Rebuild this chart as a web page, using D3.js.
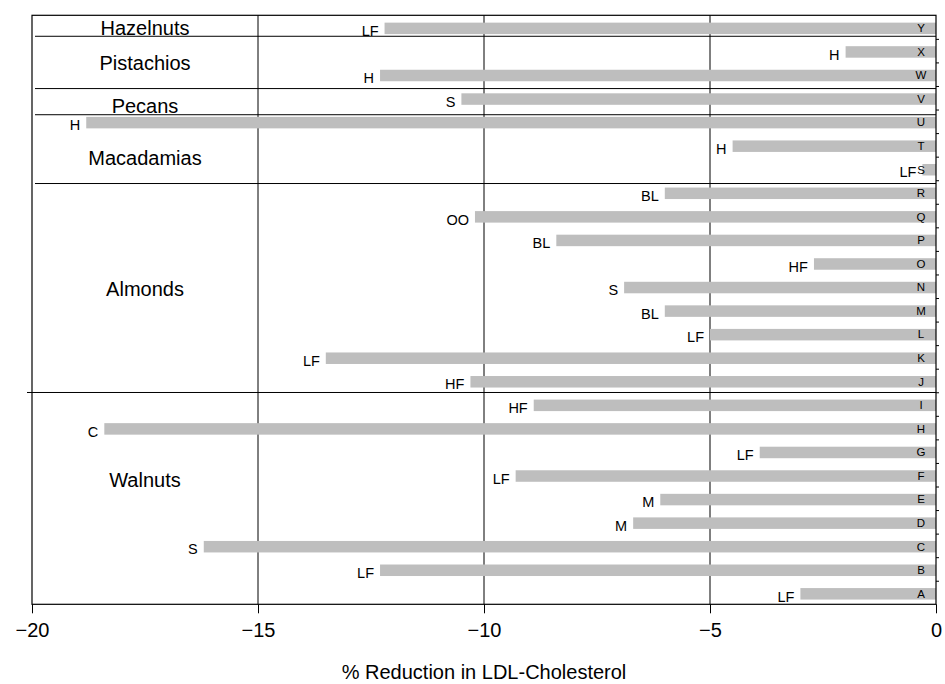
<!DOCTYPE html>
<html>
<head>
<meta charset="utf-8">
<script src="https://cdn.jsdelivr.net/npm/d3@7"></script>
<style>
  html, body { margin: 0; padding: 0; background: #fff; }
  svg { display: block; font-family: "Liberation Sans", Arial, Helvetica, sans-serif; }
</style>
</head>
<body>
<svg id="chart" width="945" height="684"></svg>
<script>
// ---- data ----
const studies    = ["A","B","C","D","E","F","G","H","I","J","K","L","M","N","O","P","Q","R","S","T","U","V","W","X","Y"];
const reductions = [-3.0,-12.3,-16.2,-6.7,-6.1,-9.3,-3.9,-18.4,-8.9,-10.3,-13.5,-5.0,-6.0,-6.9,-2.7,-8.4,-10.2,-6.0,-0.3,-4.5,-18.8,-10.5,-12.3,-2.0,-12.2];
const diets      = ["LF","LF","S","M","M","LF","LF","C","HF","HF","LF","LF","BL","S","HF","BL","OO","BL","LF","H","H","S","H","H","LF"];
const nutGroups  = ["Walnuts","Almonds","Macadamias","Pecans","Pistachios","Hazelnuts"];
const groupSizes = [9, 9, 3, 1, 2, 1];
const xTicks     = [-20, -15, -10, -5, 0];
const xTitle     = "% Reduction in LDL-Cholesterol";

// ---- layout (row units) ----
const groupLabelRow = [5.78, 13.9, 19.43, 21.64, 23.48, 24.96];
const groupBreakRow = [9.49, 18.36, 21.28, 22.39, 24.61];

const svg = d3.select("#chart");
const L = 32, R = 936, T = 15.3, B = 604.3;
const n = studies.length;

const x = d3.scaleLinear().domain([-20, 0]).range([L, R]);
const y = d3.scaleLinear().domain([0.5, n + 0.5]).range([B, T]);
const barH = 11.5;

const rows = studies.map((s, i) => ({ id: s, pos: i + 1, v: reductions[i], diet: diets[i] }));

// vertical grid lines
svg.append("g").selectAll("line").data(xTicks.slice(1, -1)).join("line")
  .attr("x1", d => x(d)).attr("x2", d => x(d))
  .attr("y1", T).attr("y2", B)
  .attr("stroke", "#000").attr("stroke-width", 1);

// group separators
svg.append("g").selectAll("line").data(groupBreakRow).join("line")
  .attr("x1", (d, i) => i === 0 ? L - 5 : L + 3)
  .attr("x2", R)
  .attr("y1", d => y(d)).attr("y2", d => y(d))
  .attr("stroke", "#000").attr("stroke-width", 1);

// bars
svg.append("g").selectAll("rect").data(rows).join("rect")
  .attr("x", d => x(d.v))
  .attr("width", d => x(0) - x(d.v))
  .attr("y", d => y(d.pos) + 1.3 - barH / 2)
  .attr("height", barH)
  .attr("fill", "#bebebe");

// diet labels
svg.append("g").selectAll("text").data(rows).join("text")
  .attr("x", d => x(d.v) - 6)
  .attr("y", d => y(d.pos) + 1.3 + 2.5 + 0.358 * 14.5)
  .attr("text-anchor", "end")
  .attr("font-size", 14.5)
  .attr("fill", "#000")
  .text(d => d.diet);

// study letters on the right
svg.append("g").selectAll("text").data(rows).join("text")
  .attr("x", x(0) - 15)
  .attr("y", d => y(d.pos) + 1 + 0.358 * 11.5)
  .attr("text-anchor", "middle")
  .attr("font-size", 11.5)
  .attr("fill", "#000")
  .text(d => d.id);

// group labels
svg.append("g").selectAll("text").data(nutGroups).join("text")
  .attr("x", x(-17.5))
  .attr("y", (d, i) => y(groupLabelRow[i]) + 0.358 * 20)
  .attr("text-anchor", "middle")
  .attr("font-size", 20)
  .attr("fill", "#000")
  .text(d => d);

// frame
svg.append("rect")
  .attr("x", L).attr("y", T).attr("width", R - L).attr("height", B - T)
  .attr("fill", "none").attr("stroke", "#000").attr("stroke-width", 1.2);

// bottom axis
const xAxis = svg.append("g").attr("transform", `translate(0,${B})`)
  .call(d3.axisBottom(x).tickValues(xTicks).tickSize(9).tickPadding(10).tickFormat(d3.format("d")));
xAxis.select(".domain").remove();
xAxis.selectAll("text").attr("font-size", 20).attr("font-family", "Liberation Sans, Arial, sans-serif").attr("fill", "#000");
xAxis.selectAll("line").attr("stroke", "#000");

// right axis ticks (between rows)
const yTicks = d3.range(1.5, n, 1);
const yAxis = svg.append("g").attr("transform", `translate(${R},0)`)
  .call(d3.axisRight(y).tickValues(yTicks).tickSize(3).tickFormat(""));
yAxis.select(".domain").remove();
yAxis.selectAll("line").attr("stroke", "#000");

// axis title
svg.append("text")
  .attr("x", (L + R) / 2)
  .attr("y", 679)
  .attr("text-anchor", "middle")
  .attr("font-size", 20)
  .attr("fill", "#000")
  .text(xTitle);
</script>
</body>
</html>
